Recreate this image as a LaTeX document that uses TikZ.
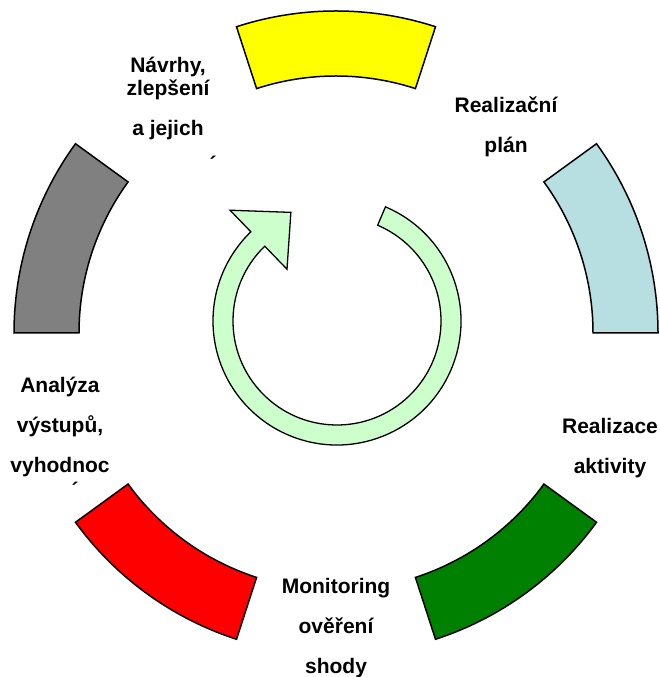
\documentclass[tikz,border=0pt]{standalone}
\usepackage{fontspec}
\setmainfont{Liberation Sans}
\usetikzlibrary{calc}

\definecolor{segyellow}{HTML}{FFFF00}
\definecolor{segblue}{HTML}{B7DEE1}
\definecolor{seggray}{HTML}{808080}
\definecolor{segred}{HTML}{FF0000}
\definecolor{seggreen}{HTML}{008000}
\definecolor{ringgreen}{HTML}{CCFFCC}

\begin{document}
\begin{tikzpicture}[x=1pt, y=1pt,
	seg/.style={draw=black, line width=1.5pt, line join=miter},
	lbl/.style={font=\bfseries\fontsize{21}{40}\selectfont, align=center, inner sep=0pt}]
	\useasboundingbox (0,0) rectangle (659,677);
	\coordinate (c) at (336,344);
	\coordinate (m) at (337,356);
	
	% 绘制五个环形块
	\draw[seg, fill=segblue] ($(c)+(0:257)$) -- ($(c)+(0:322)$) arc[start angle=0, end angle=36, radius=322]
		-- ($(c)+(36:257)$) arc[start angle=36, end angle=0, radius=257] -- cycle;
	\draw[seg, fill=segyellow] ($(c)+(72:257)$) -- ($(c)+(72:322)$) arc[start angle=72, end angle=108, radius=322]
		-- ($(c)+(108:257)$) arc[start angle=108, end angle=72, radius=257] -- cycle;
	\draw[seg, fill=seggray] ($(c)+(144:257)$) -- ($(c)+(144:322)$) arc[start angle=144, end angle=180, radius=322]
		-- ($(c)+(180:257)$) arc[start angle=180, end angle=144, radius=257] -- cycle;
	\draw[seg, fill=segred] ($(c)+(216:257)$) -- ($(c)+(216:322)$) arc[start angle=216, end angle=252, radius=322]
		-- ($(c)+(252:257)$) arc[start angle=252, end angle=216, radius=257] -- cycle;
	\draw[seg, fill=seggreen] ($(c)+(288:257)$) -- ($(c)+(288:322)$) arc[start angle=288, end angle=324, radius=322]
		-- ($(c)+(324:257)$) arc[start angle=324, end angle=288, radius=257] -- cycle;
	
	% 绘制中间的环形箭头
	\draw[draw=black, line width=1.3pt, line join=miter, fill=ringgreen]
		($(m)+(67:104)$) -- ($(m)+(67:124)$) arc[start angle=67, end angle=-226, radius=124]
		-- ($(m)+(134:154)$) -- ($(m)+(113:118)$) -- ($(m)+(134:72)$)
		-- ($(m)+(134:104)$) arc[start angle=-226, end angle=67, radius=104] -- cycle;
	
	% 文字
	\node[lbl] (navrhy) at (168,579) {Návrhy,\\[-17pt]zlepšení\\a jejich};
	\node[lbl] (navrhycut) at (213,513) {´};
	\node[lbl] (plan) at (506,550) {Realizační\\plán};
	\node[lbl] (aktivity) at (610,229) {Realizace\\aktivity};
	\node[lbl] (monitoring) at (336,49) {Monitoring\\ověření\\shody};
	\node[lbl] (analyza) at (60,250) {Analýza\\výstupů,\\vyhodnoc};
	\node[lbl] (analyzacut) at (75,187) {´};
\end{tikzpicture}
\end{document}
